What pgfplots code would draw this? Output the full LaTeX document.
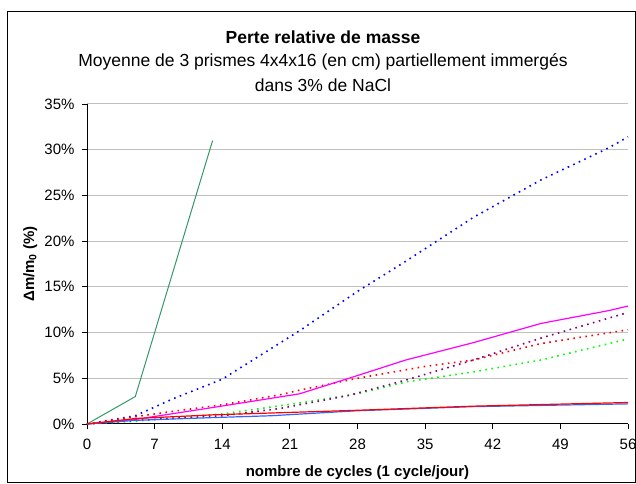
\documentclass[border=0pt]{standalone}
\usepackage{pgfplots}
\pgfplotsset{compat=1.18}
\usepackage{fontspec}
\setmainfont{Liberation Sans}
\definecolor{seagreen}{RGB}{51,153,102}
\definecolor{royal}{RGB}{51,102,255}
\definecolor{purp}{RGB}{128,0,128}
\definecolor{magen}{RGB}{255,0,255}
\definecolor{gridgray}{RGB}{192,192,192}
\begin{document}
\begin{tikzpicture}[x=1bp,y=1bp]
\useasboundingbox (0,0) rectangle (636,484);
\draw[black,line width=1bp] (7,1) rectangle (635,472);
\node[font=\fontsize{17.5bp}{20bp}\selectfont\bfseries] at (323,447) {Perte relative de masse};
\node[font=\fontsize{17.5bp}{20bp}\selectfont] at (323,422) {Moyenne de 3 prismes 4x4x16 (en cm) partiellement immergés};
\node[font=\fontsize{17.5bp}{20bp}\selectfont] at (323,399) {dans 3\% de NaCl};
\begin{axis}[
  at={(87bp,60bp)}, anchor=south west,
  width=541bp, height=320bp, scale only axis,
  xmin=0, xmax=56, ymin=0, ymax=35,
  xtick={0,7,...,56}, ytick={0,5,...,35},
  yticklabel={\pgfmathprintnumber{\tick}\%},
  axis x line*=bottom, axis y line*=left,
  axis line style={line width=1bp},
  tick style={black, line width=0.8bp},
  tick align=outside, major tick length=5bp,
  ymajorgrids, grid style={gridgray, line width=1bp},
  tick label style={font=\fontsize{15bp}{17bp}\selectfont},
  xticklabel style={yshift=-7bp},
  yticklabel style={xshift=-4bp},
  /pgf/number format/assume math mode=true,
  xlabel={\textbf{nombre de cycles (1 cycle/jour)}},
  ylabel={\textbf{Δm/m\textsubscript{0} (\%)}},
  xlabel style={font=\fontsize{15bp}{17bp}\selectfont, at={(axis description cs:0.5,-0.153)}, anchor=center},
  ylabel style={font=\fontsize{15bp}{17bp}\selectfont, at={(axis description cs:-0.105,0.5)}, anchor=center},
  clip=false,
]
% sea green solid
\addplot[seagreen, line width=1bp] coordinates {(0,0)(5,3)(13,31)};
% blue dotted
\addplot[blue, line width=1.6bp, dash pattern=on 1.6bp off 4.5bp] coordinates {(0,0)(5,0.9)(9,2.8)(14,4.9)(22,10.2)(28,14.5)(33,17.8)(40,22.6)(47,26.7)(54,30.2)(56,31.4)};
% green dotted
\addplot[green, line width=1.6bp, dash pattern=on 1.6bp off 4.5bp] coordinates {(0,0)(5,0.3)(14,1.1)(22,2.3)(28,3.3)(33,4.6)(40,5.7)(47,7.0)(56,9.3)};
% purple dotted
\addplot[purp, line width=1.6bp, dash pattern=on 1.6bp off 4.5bp] coordinates {(0,0)(5,0.4)(14,0.9)(20,1.7)(27,3.1)(33,4.8)(40,7.0)(47,9.4)(56,12.2)};
% red dotted
\addplot[red, line width=1.6bp, dash pattern=on 1.6bp off 4.5bp] coordinates {(0,0)(5,0.8)(9,1.4)(14,2.1)(20,3.2)(22,3.7)(28,5.0)(35,6.3)(40,7.0)(47,8.8)(56,10.3)};
% magenta solid
\addplot[magen, line width=1.2bp] coordinates {(0,0)(5,0.5)(13,1.8)(22,3.3)(28,5.3)(33,7.0)(40,8.9)(47,11.0)(54,12.4)(56,12.9)};
% blue solid
\addplot[royal, line width=1.2bp] coordinates {(0,0)(5,0.4)(13,0.7)(19,0.9)(28,1.45)(40,1.9)(56,2.2)};
% red solid
\addplot[red, line width=1.2bp] coordinates {(0,0)(5,0.6)(13,1.0)(19,1.2)(28,1.5)(40,1.95)(56,2.35)};
\end{axis}
\end{tikzpicture}
\end{document}
